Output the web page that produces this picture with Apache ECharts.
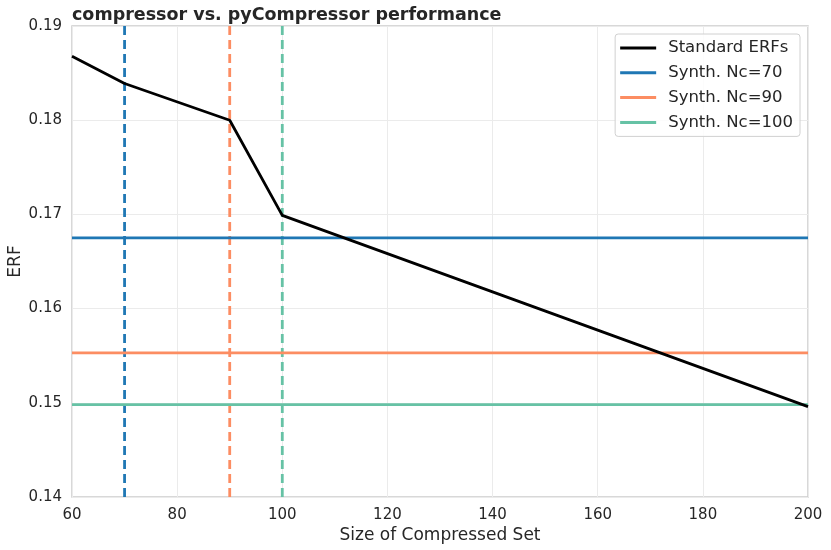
<!DOCTYPE html>
<html><head><meta charset="utf-8">
<script src="https://cdn.jsdelivr.net/npm/echarts@6/dist/echarts.min.js"></script>
<style>html,body{margin:0;padding:0;background:#fff}#c{width:831px;height:550px}</style>
</head><body><div id="c"></div>
<script>
const stdX = [60, 70, 90, 100, 200];
const stdY = [0.1868, 0.1839, 0.1800, 0.1699, 0.1496];
const synthNames = ['Synth. Nc=70', 'Synth. Nc=90', 'Synth. Nc=100'];
const synthNc = [70, 90, 100];
const synthERF = [0.1675, 0.1553, 0.1498];
const synthColors = ['#1f77b4', '#fc8d62', '#66c2a5'];
const xRange = [60, 200];
const yRange = [0.14, 0.19];
const xTicks = [60, 80, 100, 120, 140, 160, 180, 200];
const yTicks = [0.14, 0.15, 0.16, 0.17, 0.18, 0.19];

const font = 'DejaVu Sans';
const series = [];
synthNc.forEach((nc, i) => {
  series.push({
    name: 'v' + nc, type: 'line', symbol: 'none', silent: true, z: 2,
    data: [[nc, yRange[0]], [nc, yRange[1]]],
    lineStyle: { color: synthColors[i], width: 2.8, type: [9, 5] }
  });
});
synthNc.forEach((nc, i) => {
  series.push({
    name: synthNames[i], type: 'line', symbol: 'none', z: 3,
    data: [[xRange[0], synthERF[i]], [xRange[1], synthERF[i]]],
    lineStyle: { color: synthColors[i], width: 2.8 }, itemStyle: { color: synthColors[i] }
  });
});
series.push({
  name: 'Standard ERFs', type: 'line', symbol: 'none', z: 4,
  data: stdX.map((x, i) => [x, stdY[i]]),
  lineStyle: { color: '#000', width: 2.8 }, itemStyle: { color: '#000' }
});

const chart = echarts.init(document.getElementById('c'));
chart.setOption({
  animation: false,
  textStyle: { fontFamily: font },
  title: { text: 'compressor vs. pyCompressor performance', left: 72, top: 6, padding: 0,
    textStyle: { fontFamily: font, fontSize: 17.5, fontWeight: 'bold', color: '#262626' } },
  legend: {
    data: ['Standard ERFs'].concat(synthNames),
    orient: 'vertical', right: 31, top: 34,
    icon: 'rect', itemWidth: 36, itemHeight: 3, itemGap: 7.8,
    padding: [5.5, 7, 5.5, 5],
    backgroundColor: 'rgba(255,255,255,0.85)', borderColor: '#d0d0d0', borderWidth: 1, borderRadius: 3,
    textStyle: { fontFamily: font, fontSize: 16.5, color: '#262626', padding: [0, 0, 0, 7] }
  },
  grid: { left: 72, right: 23, top: 26, bottom: 53, show: true, borderColor: '#cccccc', borderWidth: 1.5,
    outerBoundsMode: 'none', containLabel: false },
  xAxis: {
    type: 'value', min: xRange[0], max: xRange[1], interval: 20,
    name: 'Size of Compressed Set', nameLocation: 'middle', nameGap: 30, nameMoveOverlap: false,
    nameTextStyle: { fontFamily: font, fontSize: 17, color: '#262626' },
    axisLine: { show: false }, axisTick: { show: false },
    axisLabel: { fontFamily: font, fontSize: 15, color: '#262626', margin: 11 },
    splitLine: { show: true, lineStyle: { color: '#ebebeb', width: 1 } }
  },
  yAxis: {
    type: 'value', min: yRange[0], max: yRange[1], interval: 0.01,
    name: 'ERF', nameLocation: 'middle', nameGap: 48, nameMoveOverlap: false,
    nameTextStyle: { fontFamily: font, fontSize: 17, color: '#262626' },
    axisLine: { show: false }, axisTick: { show: false },
    axisLabel: { fontFamily: font, fontSize: 15, color: '#262626', margin: 10,
      formatter: v => yTicks.some(t => Math.abs(t - v) < 1e-9) ? String(+v.toFixed(2)) : '' },
    splitLine: { show: true, lineStyle: { color: '#ebebeb', width: 1 } }
  },
  series: series
});
</script></body></html>
